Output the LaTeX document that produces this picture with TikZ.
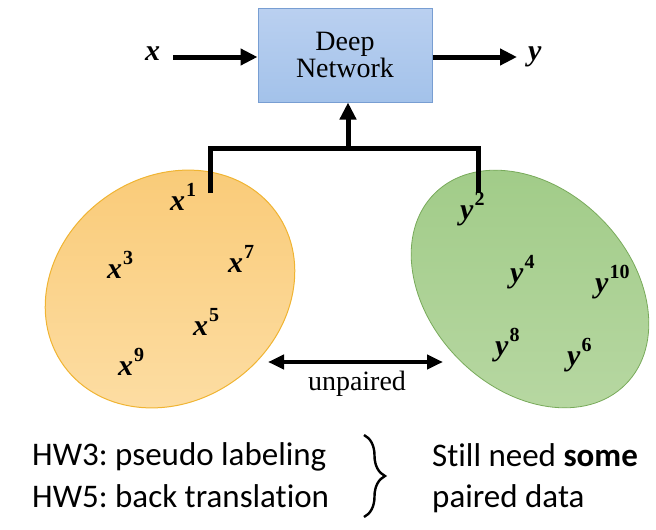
\documentclass[tikz,border=0pt]{standalone}
\usepackage{fontspec}
\newfontfamily\timesf{Liberation Serif}
\newfontfamily\calib[Ligatures=NoCommon]{Carlito}
\newcommand{\smp}[2]{{\bfseries\itshape #1}\kern1pt\raisebox{0.45em}{\fontsize{20}{22}\selectfont\bfseries\upshape #2}}
\usetikzlibrary{arrows.meta,decorations.pathreplacing,calc}
\definecolor{boxtop}{RGB}{186,208,240}
\definecolor{boxbot}{RGB}{163,194,234}
\definecolor{boxline}{RGB}{120,158,210}
\definecolor{orangeA}{RGB}{249,202,118}
\definecolor{orangeB}{RGB}{253,222,165}
\definecolor{orangeline}{RGB}{240,180,50}
\definecolor{greenA}{RGB}{160,203,135}
\definecolor{greenB}{RGB}{184,216,163}
\definecolor{greenline}{RGB}{120,170,90}
\tikzset{
  arr/.style={line width=5pt,-{Triangle[length=17pt,width=16pt]}},
  darr/.style={line width=4.5pt,{Triangle[length=16pt,width=14pt]}-{Triangle[length=16pt,width=14pt]}},
  bar/.style={line width=5pt},
  lbl/.style={inner sep=0pt,anchor=base west,font=\timesf\fontsize{30}{34}\selectfont},
  bot/.style={inner sep=0pt,anchor=base west,font=\calib\frenchspacing\fontsize{33}{38}\selectfont},
}
\begin{document}
\begin{tikzpicture}[x=1pt,y=1pt]
\useasboundingbox (0,0) rectangle (656,-530);
% ellipses
\path[draw=orangeline,line width=1pt,top color=orangeA,bottom color=orangeB,
  rotate around={36:(170,-289)}] (170,-289) ellipse [x radius=131,y radius=112];
\path[draw=greenline,line width=0.8pt,top color=greenA,bottom color=greenB,
  rotate around={-45:(530,-289)}] (530,-289) ellipse [x radius=135,y radius=100];
% deep network box
\node[draw=boxline,line width=1pt,top color=boxtop,bottom color=boxbot,
  minimum width=174pt,minimum height=94pt,inner sep=0pt,align=center,
  font=\timesf\fontsize{28}{30}\selectfont] (box) at (345,-55)
  {\raisebox{-6pt}{\shortstack{Deep\\[-1pt]Network}}};
% input/output
\node[lbl] (xin) at (145,-60) {\bfseries\itshape x};
\node[lbl] (yout) at (528,-60) {\bfseries\itshape y};
\coordinate (xa) at (173,-57);
\coordinate (ya) at (517,-57);
\draw[arr] (xa) -- (xa -| box.west);
\draw[arr] (ya -| box.east) -- (ya);
% bracket
\coordinate (lb) at (210,-193);
\coordinate (rb) at (478,-193);
\coordinate (jn) at (348,-148);
\draw[bar] (lb) |- (jn) -| (rb);
\draw[arr] (jn) -- (jn |- box.south);
% x samples
\node[lbl] (x1) at (170,-210) {\smp{x}{1}};
\node[lbl] (x3) at (107,-278) {\smp{x}{3}};
\node[lbl] (x7) at (228,-272) {\smp{x}{7}};
\node[lbl] (x5) at (193,-335) {\smp{x}{5}};
\node[lbl] (x9) at (118,-375) {\smp{x}{9}};
% y samples
\node[lbl] (y2) at (460,-219) {\smp{y}{2}};
\node[lbl] (y4) at (510,-282) {\smp{y}{4}};
\node[lbl] (y10) at (595,-292) {\smp{y}{10}};
\node[lbl] (y8) at (495,-355) {\smp{y}{8}};
\node[lbl] (y6) at (567,-365) {\smp{y}{6}};
% unpaired
\coordinate (ua) at (268,-362);
\coordinate (ub) at (443,-362);
\draw[darr] (ua) -- (ub);
\node[inner sep=0pt,anchor=base,font=\timesf\fontsize{28}{30}\selectfont] (unp) at (357,-390) {unpaired};
% bottom text
\node[bot] (hw3) at (32,-465) {HW3: pseudo labeling};
\node[bot] (hw5) at (32,-507) {HW5: back translation};
\coordinate (bt) at (364,-435);
\coordinate (bb) at (364,-517);
\draw[line width=2.4pt,decorate,decoration={brace,amplitude=21pt}] (bt) -- (bb);
\node[bot] (still) at (432,-466) {Still need \textbf{some}};
\node[bot] (pd) at (432,-507) {paired data};
\end{tikzpicture}
\end{document}
